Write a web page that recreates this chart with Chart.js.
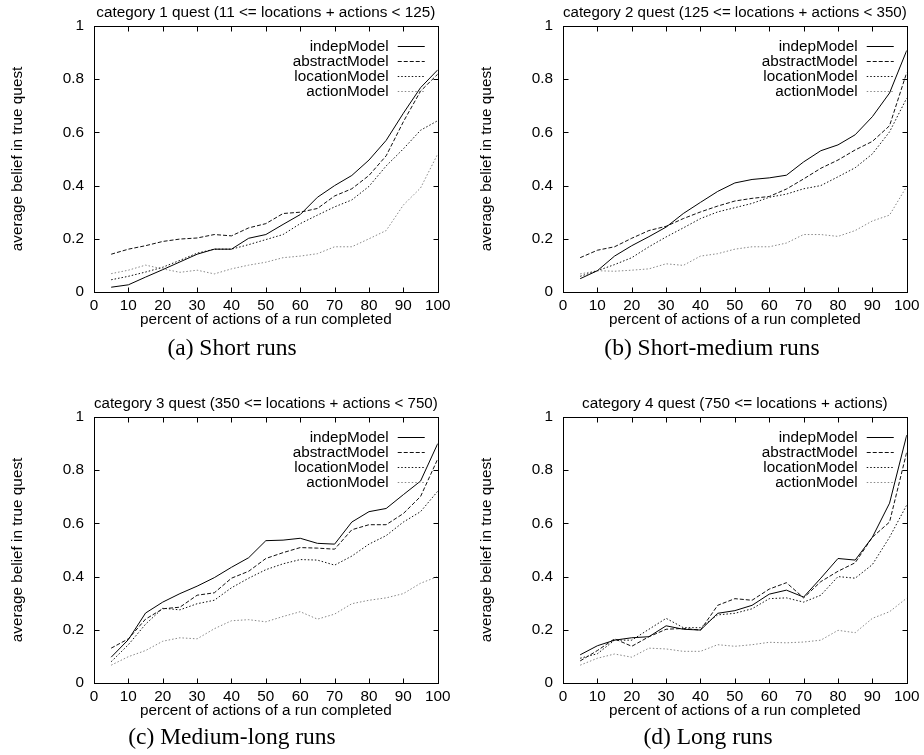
<!DOCTYPE html>
<html>
<head>
<meta charset="utf-8">
<title>Average belief in true quest</title>
<script src="https://cdn.jsdelivr.net/npm/chart.js@4.4.0/dist/chart.umd.min.js"></script>
<style>
    body { margin: 0; background: #fff; }
    .panel { position: absolute; width: 455px; height: 340px; }
    .caption {
        position: absolute;
        font-family: "Liberation Serif", "Times New Roman", serif;
        font-size: 23.5px;
        color: #000;
        white-space: nowrap;
        transform: translate(-50%, -50%);
    }
</style>
</head>
<body>
<div class="panel" style="left:0;top:0"><canvas id="chartA" width="455" height="340"></canvas></div>
<div class="panel" style="left:469px;top:0"><canvas id="chartB" width="455" height="340"></canvas></div>
<div class="panel" style="left:0;top:391px"><canvas id="chartC" width="455" height="340"></canvas></div>
<div class="panel" style="left:469px;top:391px"><canvas id="chartD" width="455" height="340"></canvas></div>
<div class="caption" style="left:232px;top:347px">(a) Short runs</div>
<div class="caption" style="left:712px;top:347px">(b) Short-medium runs</div>
<div class="caption" style="left:232px;top:736px">(c) Medium-long runs</div>
<div class="caption" style="left:708px;top:736px">(d) Long runs</div>

<script>
// x values: percent of actions of a run completed
const percentDone = [5, 10, 15, 20, 25, 30, 35, 40, 45, 50, 55, 60, 65, 70, 75, 80, 85, 90, 95, 100];

const seriesNames = ['indepModel', 'abstractModel', 'locationModel', 'actionModel'];

const titles = [
    'category 1 quest (11 <= locations + actions < 125)',
    'category 2 quest (125 <= locations + actions < 350)',
    'category 3 quest (350 <= locations + actions < 750)',
    'category 4 quest (750 <= locations + actions)'
];

// (a) Short runs
const indepA    = [0.018, 0.027, 0.056, 0.084, 0.113, 0.142, 0.161, 0.161, 0.202, 0.216, 0.254, 0.291, 0.356, 0.400, 0.438, 0.496, 0.570, 0.672, 0.768, 0.835];
const abstractA = [0.142, 0.161, 0.174, 0.190, 0.199, 0.203, 0.216, 0.211, 0.241, 0.257, 0.295, 0.300, 0.314, 0.361, 0.388, 0.438, 0.512, 0.640, 0.755, 0.819];
const locationA = [0.046, 0.059, 0.075, 0.093, 0.119, 0.146, 0.161, 0.161, 0.178, 0.197, 0.216, 0.257, 0.289, 0.320, 0.346, 0.397, 0.474, 0.538, 0.608, 0.644];
const actionA   = [0.069, 0.082, 0.101, 0.087, 0.074, 0.082, 0.068, 0.087, 0.101, 0.112, 0.129, 0.135, 0.144, 0.170, 0.170, 0.200, 0.231, 0.327, 0.391, 0.519];

// (b) Short-medium runs
const indepB    = [0.050, 0.080, 0.135, 0.174, 0.208, 0.244, 0.295, 0.337, 0.378, 0.410, 0.423, 0.429, 0.439, 0.489, 0.531, 0.553, 0.591, 0.659, 0.748, 0.908];
const abstractB = [0.129, 0.157, 0.170, 0.202, 0.231, 0.247, 0.276, 0.301, 0.323, 0.342, 0.352, 0.359, 0.387, 0.425, 0.465, 0.496, 0.534, 0.566, 0.625, 0.825];
const locationB = [0.059, 0.080, 0.103, 0.129, 0.170, 0.207, 0.241, 0.276, 0.301, 0.317, 0.333, 0.356, 0.368, 0.388, 0.400, 0.433, 0.467, 0.519, 0.602, 0.729];
const actionB   = [0.068, 0.080, 0.078, 0.082, 0.087, 0.106, 0.100, 0.135, 0.144, 0.161, 0.170, 0.170, 0.184, 0.216, 0.216, 0.209, 0.231, 0.267, 0.289, 0.397];

// (c) Medium-long runs
const indepC    = [0.097, 0.163, 0.263, 0.304, 0.336, 0.364, 0.396, 0.435, 0.471, 0.535, 0.537, 0.544, 0.525, 0.522, 0.605, 0.644, 0.656, 0.708, 0.759, 0.900];
const abstractC = [0.131, 0.166, 0.240, 0.279, 0.285, 0.330, 0.339, 0.394, 0.420, 0.468, 0.490, 0.509, 0.507, 0.503, 0.576, 0.595, 0.595, 0.637, 0.701, 0.842];
const locationC = [0.080, 0.144, 0.221, 0.281, 0.275, 0.298, 0.311, 0.358, 0.394, 0.426, 0.448, 0.464, 0.462, 0.443, 0.477, 0.522, 0.554, 0.605, 0.644, 0.721];
const actionC   = [0.067, 0.099, 0.122, 0.157, 0.170, 0.166, 0.204, 0.234, 0.238, 0.230, 0.250, 0.268, 0.240, 0.259, 0.298, 0.311, 0.320, 0.336, 0.375, 0.400];

// (d) Long runs
const indepD    = [0.106, 0.140, 0.161, 0.170, 0.174, 0.215, 0.202, 0.199, 0.262, 0.272, 0.292, 0.334, 0.349, 0.323, 0.394, 0.468, 0.462, 0.548, 0.676, 0.932];
const abstractD = [0.083, 0.122, 0.166, 0.138, 0.174, 0.202, 0.205, 0.199, 0.292, 0.317, 0.311, 0.353, 0.377, 0.320, 0.381, 0.420, 0.452, 0.548, 0.605, 0.868];
const locationD = [0.093, 0.110, 0.161, 0.161, 0.202, 0.243, 0.208, 0.208, 0.256, 0.262, 0.279, 0.317, 0.320, 0.304, 0.330, 0.400, 0.394, 0.445, 0.548, 0.669];
const actionD   = [0.067, 0.093, 0.109, 0.097, 0.131, 0.128, 0.119, 0.119, 0.144, 0.138, 0.144, 0.153, 0.151, 0.154, 0.161, 0.198, 0.189, 0.243, 0.268, 0.319];

// line looks (gnuplot-ish)
const lineColors = ['#000', '#111', '#111', '#888'];
const lineDashes = [[], [4, 2], [1.5, 2], [1.5, 2]];

const FONT = '"Liberation Sans", Arial, Helvetica, sans-serif';
const FONT_SIZE = 15.3;
Chart.defaults.font.family = FONT;
Chart.defaults.font.size = FONT_SIZE;
Chart.defaults.color = '#000';

// box border with inward ticks on all four sides
const frameTicks = {
    id: 'frameTicks',
    afterDraw(chart) {
        const { ctx, chartArea: a, scales: { x, y } } = chart;
        const L = Math.round(a.left) + 0.5, R = Math.round(a.right) + 0.5;
        const T = Math.round(a.top) + 0.5, B = Math.round(a.bottom) + 0.5;
        ctx.save();
        ctx.strokeStyle = '#000';
        ctx.lineWidth = 1;
        ctx.setLineDash([]);
        ctx.strokeRect(L, T, R - L, B - T);
        ctx.beginPath();
        x.ticks.forEach(t => {
            const px = Math.round(x.getPixelForValue(t.value)) + 0.5;
            ctx.moveTo(px, B); ctx.lineTo(px, B - 5);
            ctx.moveTo(px, T); ctx.lineTo(px, T + 5);
        });
        y.ticks.forEach(t => {
            const py = Math.round(y.getPixelForValue(t.value)) + 0.5;
            ctx.moveTo(L, py); ctx.lineTo(L + 5, py);
            ctx.moveTo(R, py); ctx.lineTo(R - 5, py);
        });
        ctx.stroke();
        ctx.restore();
    }
};

// key in the top right corner: label, then line sample
const gnuplotKey = {
    id: 'gnuplotKey',
    afterDatasetsDraw(chart) {
        const { ctx, chartArea: a } = chart;
        ctx.save();
        ctx.font = FONT_SIZE + 'px ' + FONT;
        ctx.textAlign = 'right';
        ctx.textBaseline = 'middle';
        chart.data.datasets.forEach((ds, i) => {
            const yPos = Math.round(a.top + 20 + i * 15) + 0.5;
            ctx.fillStyle = '#000';
            ctx.fillText(ds.label, a.right - 49, yPos);
            ctx.strokeStyle = ds.borderColor;
            ctx.lineWidth = 1;
            ctx.setLineDash(ds.borderDash);
            ctx.beginPath();
            ctx.moveTo(a.right - 40, yPos);
            ctx.lineTo(a.right - 13, yPos);
            ctx.stroke();
        });
        ctx.restore();
    }
};

function makeChart(canvasId, title, series) {
    const datasets = series.map((values, i) => ({
        label: seriesNames[i],
        data: percentDone.map((p, j) => ({ x: p, y: values[j] })),
        borderColor: lineColors[i],
        borderDash: lineDashes[i],
        borderWidth: 1,
        pointRadius: 0,
        tension: 0,
        fill: false
    }));

    return new Chart(document.getElementById(canvasId), {
        type: 'line',
        data: { datasets: datasets },
        options: {
            responsive: false,
            animation: false,
            layout: { padding: { left: 0, right: 15, top: 0, bottom: 0 } },
            plugins: {
                legend: { display: false },
                tooltip: { enabled: false },
                title: {
                    display: true,
                    text: title,
                    fullSize: false,
                    color: '#000',
                    font: { size: FONT_SIZE, weight: 'normal' },
                    padding: { top: 3.8, bottom: 3.8 }
                }
            },
            scales: {
                x: {
                    type: 'linear',
                    min: 0,
                    max: 100,
                    grid: { display: false, drawTicks: false },
                    border: { display: false },
                    ticks: { stepSize: 10, padding: 4.5, maxRotation: 0 },
                    title: {
                        display: true,
                        text: 'percent of actions of a run completed',
                        padding: { top: 0, bottom: 11 }
                    },
                    afterFit: function(scale) { scale.height = 48; }
                },
                y: {
                    type: 'linear',
                    min: 0,
                    max: 1,
                    grid: { display: false, drawTicks: false },
                    border: { display: false },
                    ticks: {
                        stepSize: 0.2,
                        padding: 10,
                        callback: function(value) { return String(Math.round(value * 10) / 10); }
                    },
                    title: {
                        display: true,
                        text: 'average belief in true quest',
                        padding: { top: 9, bottom: 0 }
                    },
                    afterFit: function(scale) { scale.width = 94; }
                }
            }
        },
        plugins: [frameTicks, gnuplotKey]
    });
}

makeChart('chartA', titles[0], [indepA, abstractA, locationA, actionA]);
makeChart('chartB', titles[1], [indepB, abstractB, locationB, actionB]);
makeChart('chartC', titles[2], [indepC, abstractC, locationC, actionC]);
makeChart('chartD', titles[3], [indepD, abstractD, locationD, actionD]);
</script>
</body>
</html>
